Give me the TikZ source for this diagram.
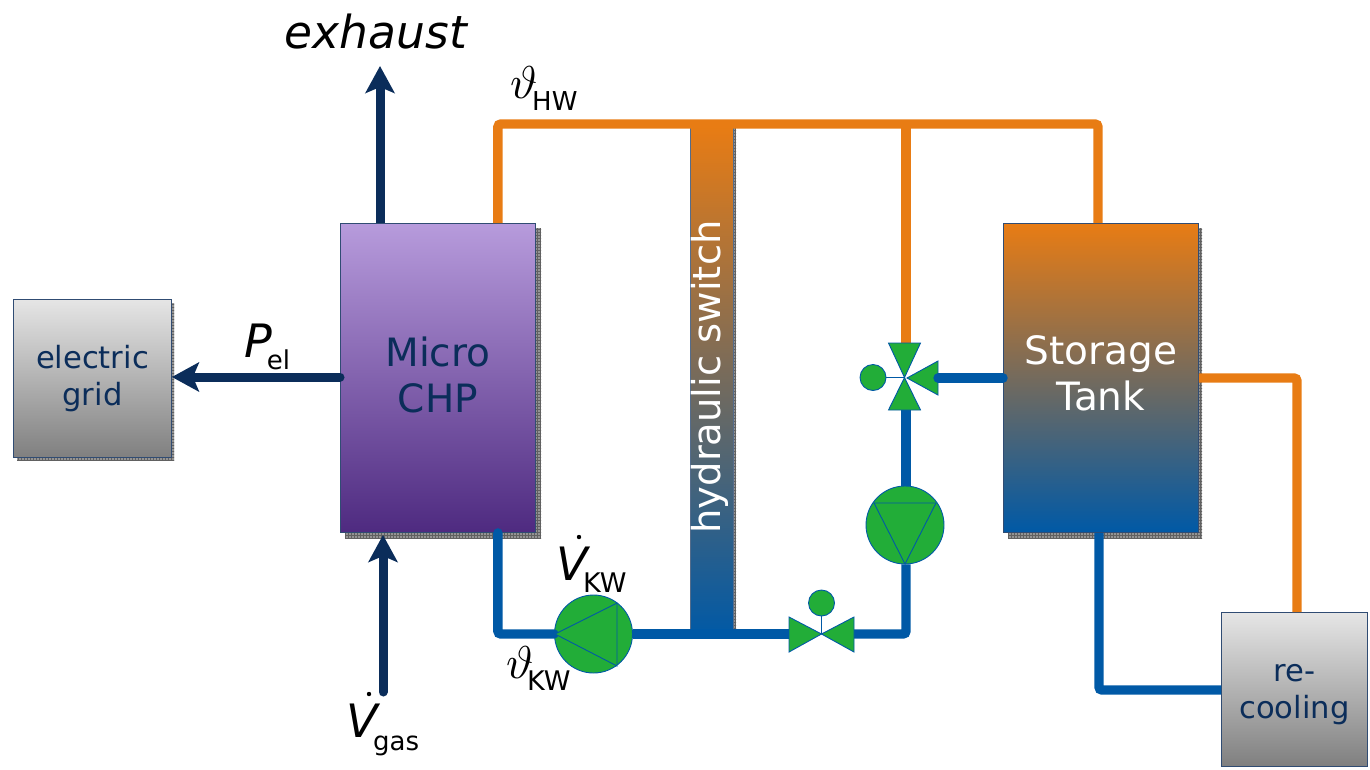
\documentclass[tikz,border=0pt]{standalone}
\usepackage{fontspec}
\setmainfont{DejaVu Sans}
\usetikzlibrary{arrows.meta,patterns,calc}
\definecolor{navy}{HTML}{0B2D5A}
\definecolor{hot}{HTML}{E87C14}
\definecolor{cold}{HTML}{0059A6}
\definecolor{pumpgreen}{HTML}{22AD38}
\definecolor{chpt}{HTML}{B79BDC}
\definecolor{chpb}{HTML}{4E2A80}
\font\thetafont=cmmi10 at 46pt
\tikzset{
  x=1pt,y=-1pt,
  boxbase/.style={draw=navy!85,line width=0.9pt,inner sep=0pt,align=center,text=navy,anchor=north west},
  greybox/.style={boxbase,top color=black!10,bottom color=black!50},
  purplebox/.style={boxbase,top color=chpt,bottom color=chpb},
  tankbox/.style={boxbase,top color=hot,bottom color=cold},
  hotpipe/.style={draw=hot,line width=9.4pt,rounded corners=3pt},
  coldpipe/.style={draw=cold,line width=9.4pt,rounded corners=3pt},
  flow/.style={draw=navy,line width=9pt,-{Stealth[length=27pt,width=29pt,inset=6pt]}},
  rotor/.style={circle,draw=cold,line width=0.9pt,fill=pumpgreen,inner sep=0pt,minimum size=78pt},
  handle/.style={circle,draw=cold,line width=0.9pt,fill=pumpgreen,inner sep=0pt,minimum size=26pt},
  vane/.style={draw=cold,line width=0.9pt,fill=pumpgreen,line join=miter},
  stem/.style={draw=cold,line width=0.8pt},
  lab/.style={inner sep=0pt,text=black},
  big/.style={font=\itshape\fontsize{46}{50}\selectfont},
  sub/.style={font=\fontsize{26}{30}\selectfont},
}
\newcommand{\hatchshade}[4]{%
  \fill[black!42] (#1,#2) rectangle (#3,#4);
  \fill[pattern=grid,pattern color=black!62] (#1,#2) rectangle (#3,#4);
}
\begin{document}
\begin{tikzpicture}
\useasboundingbox (0,0) rectangle (1370,769);
% drop shadows
\hatchshade{17}{303}{174}{460}
\hatchshade{345}{228}{541}{538}
\hatchshade{1008}{228}{1202}{538}
\hatchshade{694}{128}{736}{630}
% hydraulic switch
\node[tankbox,minimum width=43pt,minimum height=510pt,draw=navy!70] (switch) at (690,126) {};
\node[rotate=90,text=white,inner sep=0pt,font=\fontsize{38.5}{40}\selectfont] (switchlab) at (710,377) {hydraulic switch};
% boxes
\node[greybox,minimum width=158pt,minimum height=158pt,font=\fontsize{30.6}{37}\selectfont] (grid) at (13,299) {electric\\grid};
\node[purplebox,minimum width=195pt,minimum height=309pt,font=\fontsize{39}{46}\selectfont] (chp) at (340,223) {Micro\\CHP\rule[-7pt]{0pt}{0pt}};
\node[tankbox,minimum width=195pt,minimum height=309pt,text=white,font=\fontsize{39}{46}\selectfont] (tank) at (1003,223) {Storage\\Tank\rule[-9pt]{0pt}{0pt}};
\node[greybox,minimum width=146pt,minimum height=154pt,font=\fontsize{30.6}{37}\selectfont] (recool) at (1221,612) {\rule{0pt}{28pt}re-\\cooling};
% pumps
\node[rotor] (pumpa) at (593.5,634) {};
\node[rotor] (pumpb) at (905,525) {};
% valve ports
\coordinate (v1l) at (789,634);
\coordinate (v1r) at (854,634);
\coordinate (v1c) at (821.5,634);
\coordinate (v1h) at (821.5,603);
\coordinate (v2c) at (904.5,377.5);
\coordinate (v2t) at (906,343);
\coordinate (v2b) at (906,410);
\coordinate (v2r) at (938,378);
\coordinate (v2h) at (873,377.5);
\coordinate (topr) at ([xshift=95pt]tank.north west |- 0,124);
\coordinate (exh) at (380,66);
\coordinate (gas) at (383,692);
% pipes
\draw[hotpipe] ([xshift=-38pt]chp.north east) |- (topr) -- ([xshift=95pt]tank.north west);
\draw[hotpipe] (v2t) -- (906,124);
\draw[hotpipe] ([yshift=-155pt]tank.north east) -| ([xshift=76pt]recool.north west);
\draw[coldpipe,line cap=round] ([xshift=-38pt]chp.south east) |- (pumpa.west);
\draw[coldpipe] (pumpa.east) -- (v1l);
\draw[coldpipe] (v1r) -| ([xshift=1pt]pumpb.south);
\draw[coldpipe] ([xshift=1pt]pumpb.north) -- (v2b);
\draw[coldpipe] ([xshift=96pt]tank.south west) |- ([yshift=-78pt]recool.north west);
% energy flows
\draw[flow] ([xshift=40pt]chp.north west) -- (exh);
\draw[flow,line cap=round] ([yshift=-154pt]chp.north west) -- (grid.east |- 0,377);
\draw[flow,line cap=round] (gas) -- (383,535);
% pump impellers
\draw[vane] (555,634) -- (617,603) -- (617,666) -- cycle;
\draw[vane] (874,503) -- (936,503) -- (905,564) -- cycle;
% valve 1
\draw[stem] (v1c) -- (v1h);
\node[handle] (v1knob) at (v1h) {};
\draw[vane] (v1l |- 0,617) -- (v1c) -- (v1l |- 0,652) -- cycle;
\draw[vane] (v1r |- 0,617) -- (v1c) -- (v1r |- 0,652) -- cycle;
% valve 2
\draw[stem] (v2c) -- (v2h);
\node[handle] (v2knob) at (v2h) {};
\draw[vane] (888.5,343) -- (920.5,343) -- (v2c) -- cycle;
\draw[vane] (888.5,410) -- (920.5,410) -- (v2c) -- cycle;
\draw[vane] (938,361) -- (938,395) -- (907,378) -- cycle;
\draw[coldpipe,line cap=round] (tank.west |- v2r) -- (v2r);
% labels
\node[lab,font=\itshape\fontsize{45.5}{50}\selectfont] (exhlab) at (376,32) {exhaust};
\node[lab,anchor=base west] (hwlab) at (510,98) {\thetafont\char"23};
\node[lab,anchor=base west,sub] (hwsub) at (532,110) {HW};
\node[lab,anchor=base west] (kwlab) at (506,678) {\thetafont\char"23};
\node[lab,anchor=base west,font=\fontsize{27}{30}\selectfont] (kwsub) at (527,690) {KW};
\node[lab,anchor=base west,big] (pel) at (244,357) {P\kern-5pt\lower12pt\hbox{\upshape\fontsize{26}{30}\selectfont el}};
\node[lab,anchor=base west,big] (vkw) at (556,580) {V};
\fill[black] (579,537) circle (2.2);
\node[lab,anchor=base west,font=\fontsize{27}{30}\selectfont] (vkwsub) at (583,592) {KW};
\node[lab,anchor=base west,big] (vgas) at (346,737) {V};
\fill[black] (369,694) circle (2.2);
\node[lab,anchor=base west,sub] (vgassub) at (373,750) {gas};
\end{tikzpicture}
\end{document}
